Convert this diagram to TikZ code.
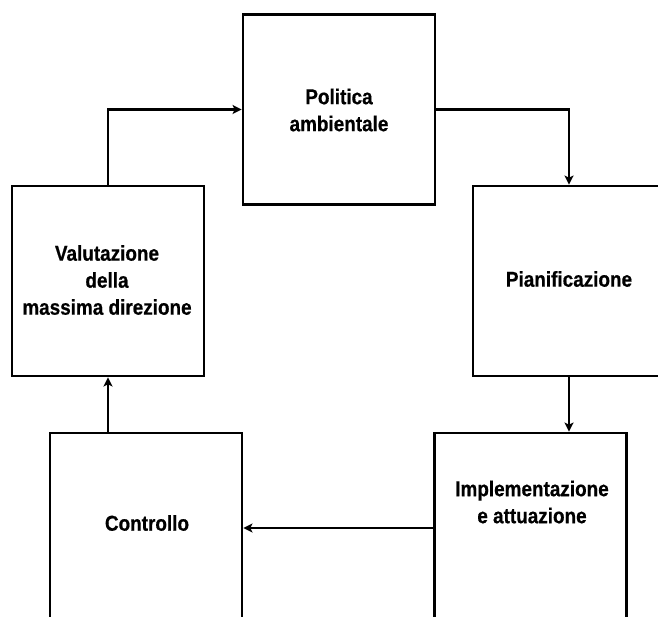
\documentclass[tikz,border=0pt]{standalone}
\usepackage{fontspec}
\setmainfont{Liberation Sans}[FakeStretch=0.88,BoldFeatures={FakeBold=0.6}]
\usetikzlibrary{arrows.meta}
\begin{document}
\begin{tikzpicture}[x=1pt,y=-1pt,
  box/.style={draw=black,line width=2.8pt,minimum width=192pt,minimum height=190pt,inner sep=0pt,fill=white},
  lbl/.style={align=center,font=\fontsize{21.5}{27}\selectfont\bfseries,inner sep=0pt},
  conn/.style={draw=black,line width=2.3pt,-{Stealth[length=9pt,width=9pt,inset=2pt]}}]
\useasboundingbox[fill=white] (0,0) rectangle (658,617);
\begin{scope}
\clip (0,0) rectangle (658,617);
\node[box] (pol) at (339,109.5) {};
\node[box] (pian) at (569,281) {};
\node[box] (impl) at (530.5,528) {};
\node[box] (ctrl) at (146,528) {};
\node[box] (valu) at (108,281) {};
\node[lbl] (tpol) at (339,110) {Politica\\ambientale};
\node[lbl] (tpian) at (569,279) {Pianificazione};
\node[lbl] (timpl) at (532,502) {Implementazione\\e attuazione};
\node[lbl] (tctrl) at (147,523) {Controllo};
\node[lbl] (tvalu) at (107,280) {Valutazione\\della\\massima direzione};
\coordinate (c1) at (valu.south |- ctrl.north);
\coordinate (c2) at (pian.south |- impl.north);
\draw[conn] (valu.north) |- (pol.west);
\draw[conn] (pol.east) -| (pian.north);
\draw[conn] (pian.south) -- (c2);
\draw[conn] (impl.west) -- (ctrl.east);
\draw[conn] (c1) -- (valu.south);
\end{scope}
\end{tikzpicture}
\end{document}
